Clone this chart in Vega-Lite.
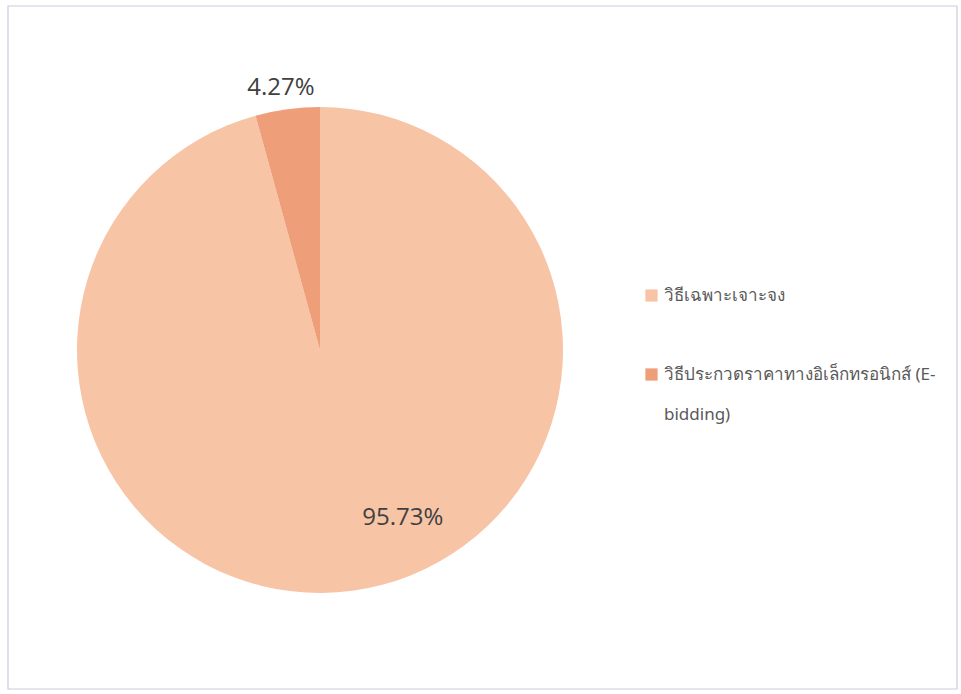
{
  "$schema": "https://vega.github.io/schema/vega-lite/v6.json",
  "width": 949,
  "height": 683,
  "padding": {"left": 8, "top": 6, "right": 4, "bottom": 5},
  "autosize": {"type": "none"},
  "background": "white",
  "config": {
    "view": {"stroke": null},
    "font": "Open Sans",
    "style": {"guide-label": {"lineHeight": 40}}
  },
  "data": {
    "values": [
      {"method": "วิธีเฉพาะเจาะจง", "pct": 95.73, "label": "95.73%"},
      {"method": "วิธีประกวดราคาทางอิเล็กทรอนิกส์ (E-bidding)", "pct": 4.27, "label": "4.27%"}
    ]
  },
  "transform": [
    {"stack": "pct", "groupby": [], "as": ["t0", "t1"], "sort": [{"field": "pct", "order": "descending"}]}
  ],
  "layer": [
    {
      "data": {"values": [{"frame": 1}]},
      "transform": [],
      "mark": {"type": "rect", "fill": null, "stroke": "#c9cbe0", "strokeWidth": 1.2}
    },
    {
      "mark": {"type": "arc", "outerRadius": 243, "x": 312, "y": 344},
      "encoding": {
        "theta": {"field": "t0", "type": "quantitative", "stack": null, "scale": {"domain": [0, 100]}},
        "theta2": {"field": "t1"},
        "color": {
          "field": "method",
          "type": "nominal",
          "sort": ["วิธีเฉพาะเจาะจง", "วิธีประกวดราคาทางอิเล็กทรอนิกส์ (E-bidding)"],
          "scale": {"range": ["#f8c4a6", "#ee9e78"]},
          "legend": {
            "title": null,
            "orient": "none",
            "legendX": 635,
            "legendY": 281,
            "symbolType": "square",
            "symbolSize": 150,
            "symbolStrokeWidth": 0,
            "labelFont": "Noto Sans",
            "labelFontSize": 17,
            "labelColor": "#595959",
            "labelLimit": 400,
            "rowPadding": 61,
            "labelExpr": "datum.label == 'วิธีประกวดราคาทางอิเล็กทรอนิกส์ (E-bidding)' ? ['วิธีประกวดราคาทางอิเล็กทรอนิกส์ (E-', 'bidding)'] : datum.label"
          }
        }
      }
    },
    {
      "transform": [{"filter": "datum.pct > 50"}],
      "mark": {"type": "text", "radius": 187, "thetaOffset": 2.683, "x": 312, "y": 344, "fontSize": 24, "color": "#404040", "font": "Open Sans"},
      "encoding": {
        "theta": {"field": "t0", "type": "quantitative", "stack": null, "scale": {"domain": [0, 100]}},
        "text": {"field": "label"}
      }
    },
    {
      "transform": [{"filter": "datum.pct < 50"}],
      "mark": {"type": "text", "radius": 265, "thetaOffset": 0.12, "x": 312, "y": 344, "fontSize": 24, "color": "#404040", "font": "Open Sans"},
      "encoding": {
        "theta": {"field": "t0", "type": "quantitative", "stack": null, "scale": {"domain": [0, 100]}},
        "text": {"field": "label"}
      }
    }
  ]
}
